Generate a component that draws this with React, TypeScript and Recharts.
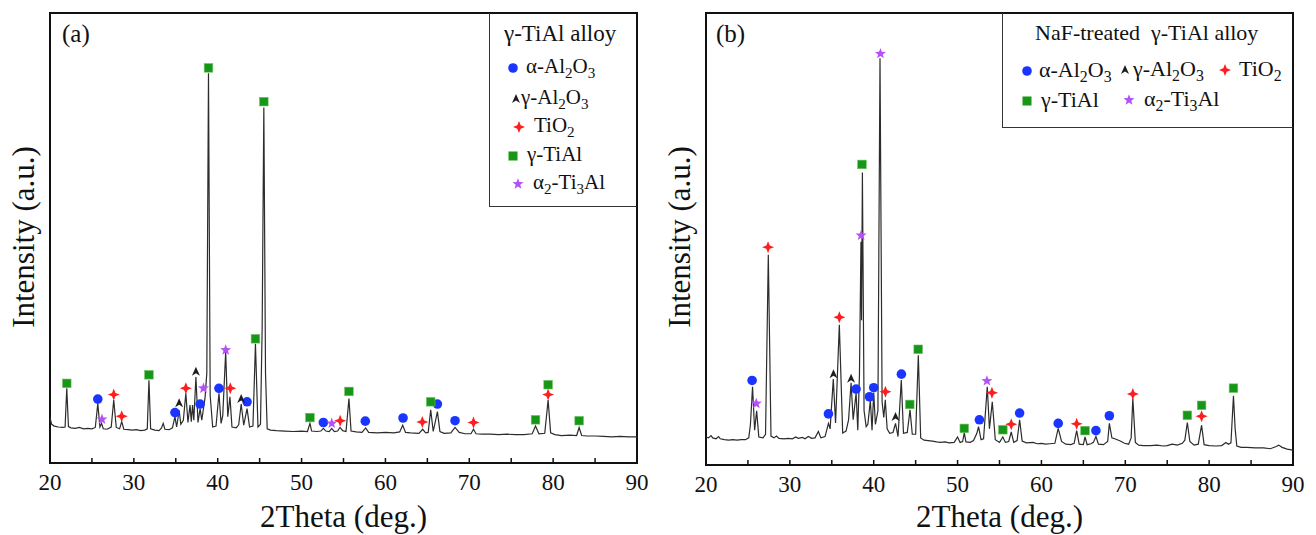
import React from "react";
import { ComposedChart, Line, Scatter, XAxis, YAxis, ReferenceArea } from "recharts";

type Pt = [number, number];
type Kind = "alpha" | "gamma" | "tio2" | "tial" | "ti3al";

const xTicks = [20, 25, 30, 35, 40, 45, 50, 55, 60, 65, 70, 75, 80, 85, 90];

// (a) gamma-TiAl alloy: [2theta, intensity]
const patternA: Pt[] = [
  [20.0, 10.0], [20.2, 8.6], [20.5, 8.2], [21.0, 8.0], [21.5, 7.9], [21.8, 8.0], [22.0, 16.6], [22.2, 8.1],
  [22.5, 7.8], [23.0, 7.7], [23.5, 7.9], [24.0, 7.6], [24.5, 7.7], [25.0, 7.6], [25.4, 7.9], [25.7, 13.2],
  [25.95, 8.0], [26.15, 8.8], [26.35, 7.6], [26.8, 7.5], [27.3, 8.0], [27.6, 14.0], [27.9, 7.9], [28.3, 7.6],
  [28.55, 9.2], [28.8, 7.5], [29.3, 7.4], [29.8, 7.3], [30.3, 7.4], [30.8, 7.2], [31.3, 7.3], [31.6, 7.6],
  [31.8, 18.4], [32.0, 7.6], [32.5, 7.3], [33.0, 7.2], [33.3, 7.8], [33.5, 8.8], [33.7, 7.5], [34.2, 7.4],
  [34.6, 7.8], [34.9, 10.3], [35.1, 8.0], [35.4, 11.7], [35.6, 8.6], [35.9, 9.5], [36.2, 15.5], [36.45, 9.0],
  [36.7, 12.9], [36.85, 9.2], [37.0, 12.9], [37.15, 9.5], [37.4, 19.1], [37.65, 9.0], [37.9, 12.1], [38.1, 9.5],
  [38.5, 14.7], [38.7, 20.0], [38.9, 86.6], [39.1, 15.0], [39.4, 8.0], [39.8, 8.2], [40.15, 15.5], [40.4, 8.8],
  [40.6, 10.5], [40.95, 24.7], [41.2, 10.3], [41.46, 14.7], [41.7, 8.0], [42.2, 7.8], [42.5, 8.5], [42.8, 13.1],
  [43.1, 8.4], [43.5, 12.1], [43.8, 8.0], [44.2, 8.2], [44.5, 26.5], [44.8, 8.0], [45.1, 8.6], [45.3, 30.0],
  [45.5, 79.0], [45.7, 20.0], [45.9, 7.6], [46.3, 7.3], [47.0, 7.2], [48.0, 7.1], [49.0, 7.0], [50.0, 7.1],
  [50.7, 7.0], [51.0, 8.8], [51.2, 7.1], [51.8, 7.0], [52.3, 7.1], [52.6, 7.7], [52.9, 7.1], [53.3, 7.0],
  [53.6, 7.7], [53.9, 7.0], [54.3, 7.1], [54.58, 7.9], [54.9, 7.2], [55.3, 7.0], [55.65, 14.3], [55.9, 7.1],
  [56.5, 6.9], [57.2, 6.8], [57.64, 7.8], [58.0, 6.8], [59.0, 6.7], [60.0, 6.8], [61.0, 6.7], [61.7, 6.9],
  [62.06, 8.4], [62.4, 6.8], [63.0, 6.7], [64.0, 6.6], [64.44, 7.5], [64.8, 6.7], [65.1, 6.8], [65.4, 11.8],
  [65.7, 7.0], [66.2, 11.4], [66.5, 7.0], [67.0, 6.6], [67.8, 6.7], [68.3, 7.9], [68.8, 6.8], [69.5, 6.5],
  [70.2, 6.5], [70.5, 7.5], [70.8, 6.5], [71.5, 6.4], [72.5, 6.4], [73.5, 6.3], [74.5, 6.4], [75.5, 6.3],
  [76.5, 6.3], [77.5, 6.5], [77.9, 8.2], [78.3, 6.5], [79.0, 6.6], [79.4, 14.0], [79.7, 6.7], [80.2, 6.3],
  [81.0, 6.1], [82.0, 6.2], [82.8, 6.1], [83.1, 7.9], [83.4, 6.1], [84.0, 6.0], [85.0, 6.0], [86.0, 5.9],
  [87.0, 5.8], [88.0, 5.9], [89.0, 5.8], [90.0, 5.8],
];

const alphaA: Pt[] = [[25.7, 14.2], [34.9, 11.2], [37.9, 13.1], [40.15, 16.6], [43.5, 13.6], [52.6, 9.0], [57.6, 9.3], [62.1, 10.0], [66.2, 13.1], [68.3, 9.4]];
const gammaA: Pt[] = [[35.4, 13.3], [37.4, 20.3], [42.8, 14.2]];
const tio2A: Pt[] = [[27.6, 15.2], [28.55, 10.4], [36.2, 16.6], [41.5, 16.6], [54.6, 9.4], [64.4, 9.1], [70.5, 9.0], [79.4, 15.2]];
const tialA: Pt[] = [[22.0, 17.7], [31.8, 19.6], [38.9, 87.8], [44.5, 27.6], [45.5, 80.3], [51.0, 10.1], [55.65, 15.9], [65.4, 13.6], [77.9, 9.6], [79.4, 17.4], [83.1, 9.4]];
const ti3alA: Pt[] = [[26.2, 9.7], [38.3, 16.6], [40.95, 25.1], [53.6, 8.8]];

// (b) NaF-treated gamma-TiAl alloy
const patternB: Pt[] = [
  [20.0, 6.2], [20.3, 6.0], [20.6, 6.5], [20.8, 6.0], [21.2, 5.8], [21.5, 6.3], [21.7, 5.8], [22.2, 5.6],
  [22.7, 5.5], [23.2, 5.6], [23.7, 5.5], [24.2, 5.6], [24.7, 5.6], [25.1, 6.0], [25.3, 9.0], [25.55, 17.3],
  [25.8, 7.7], [26.04, 12.0], [26.3, 6.2], [26.8, 6.0], [27.1, 6.8], [27.43, 46.5], [27.75, 6.4], [28.1, 6.0],
  [28.4, 6.4], [28.7, 5.9], [29.3, 5.8], [29.8, 5.9], [30.3, 5.8], [30.7, 6.2], [31.0, 5.9], [31.5, 6.1],
  [31.8, 5.8], [32.2, 6.3], [32.6, 5.9], [33.0, 6.0], [33.4, 7.4], [33.7, 6.0], [34.2, 6.3], [34.6, 9.2],
  [34.8, 8.0], [35.18, 19.0], [35.45, 9.3], [35.9, 31.0], [36.3, 7.1], [36.7, 7.5], [37.0, 10.0], [37.3, 18.2],
  [37.55, 10.0], [37.9, 15.9], [38.1, 7.7], [38.3, 20.0], [38.48, 49.4], [38.55, 32.0], [38.65, 64.7], [38.85, 12.0],
  [39.1, 8.5], [39.3, 9.0], [39.6, 14.3], [39.8, 7.7], [40.0, 16.0], [40.2, 9.0], [40.5, 12.0], [40.75, 90.0],
  [41.0, 14.0], [41.2, 10.5], [41.38, 14.4], [41.6, 8.0], [41.9, 7.0], [42.3, 7.2], [42.6, 9.2], [42.9, 6.3],
  [43.29, 18.8], [43.55, 7.0], [44.0, 7.2], [44.33, 12.2], [44.6, 6.8], [45.0, 6.8], [45.32, 24.3], [45.6, 6.0],
  [46.0, 5.5], [46.5, 5.4], [47.0, 5.3], [47.5, 5.1], [48.0, 5.0], [48.5, 5.1], [49.0, 4.9], [49.6, 5.0],
  [50.0, 6.2], [50.3, 5.0], [50.6, 5.2], [50.8, 7.1], [51.0, 5.1], [51.5, 5.0], [51.9, 5.4], [52.3, 7.0],
  [52.5, 8.5], [52.8, 5.6], [53.1, 5.8], [53.54, 17.3], [53.8, 8.0], [54.14, 14.0], [54.5, 5.6], [55.0, 5.0],
  [55.4, 6.2], [55.7, 5.0], [56.1, 5.2], [56.4, 7.3], [56.7, 5.0], [57.1, 5.4], [57.4, 10.0], [57.7, 5.3],
  [58.2, 4.9], [59.0, 5.0], [59.5, 4.7], [60.0, 4.8], [60.5, 4.6], [61.0, 4.7], [61.6, 4.8], [62.0, 8.1],
  [62.4, 5.2], [62.9, 4.6], [63.5, 4.5], [63.9, 4.8], [64.2, 7.6], [64.5, 4.6], [65.0, 4.5], [65.2, 6.2],
  [65.45, 4.5], [65.9, 4.7], [66.2, 5.0], [66.5, 6.3], [66.8, 4.6], [67.4, 4.5], [67.9, 5.2], [68.1, 9.2],
  [68.4, 6.0], [68.9, 5.7], [69.4, 5.3], [69.9, 4.8], [70.4, 4.6], [70.7, 6.0], [70.9, 14.7], [71.2, 5.0],
  [71.6, 4.4], [72.2, 4.3], [73.0, 4.3], [73.8, 4.4], [74.5, 4.2], [75.0, 4.3], [75.6, 4.6], [76.2, 4.4],
  [76.8, 4.8], [77.1, 5.5], [77.4, 9.4], [77.7, 5.2], [78.2, 4.4], [78.7, 4.6], [79.1, 8.8], [79.4, 4.5],
  [80.0, 4.3], [80.8, 4.2], [81.5, 4.3], [82.0, 5.0], [82.3, 4.6], [82.6, 4.9], [82.9, 15.3], [83.1, 8.0],
  [83.3, 4.2], [83.8, 3.9], [84.5, 3.9], [85.5, 3.8], [86.5, 3.8], [87.3, 3.6], [88.0, 4.1], [88.3, 4.4],
  [88.7, 3.9], [89.3, 3.5], [90.0, 3.3],
];

const alphaB: Pt[] = [[25.5, 18.7], [34.6, 11.3], [37.9, 16.8], [39.5, 15.1], [40.0, 17.1], [43.3, 20.1], [52.6, 10.0], [57.4, 11.5], [62.0, 9.2], [66.5, 7.6], [68.1, 10.9]];
const gammaB: Pt[] = [[35.2, 20.1], [37.3, 19.1], [42.6, 10.6]];
const tio2B: Pt[] = [[27.4, 48.2], [35.9, 32.7], [41.4, 16.2], [54.1, 16.0], [56.4, 9.0], [64.2, 9.1], [70.9, 15.7], [79.1, 10.8]];
const tialB: Pt[] = [[38.6, 66.5], [44.3, 13.4], [45.3, 25.6], [50.8, 8.1], [55.4, 7.8], [65.2, 7.6], [77.4, 11.0], [79.1, 13.2], [82.9, 17.0]];
const ti3alB: Pt[] = [[26.0, 13.6], [38.5, 50.8], [40.8, 91.0], [53.5, 18.6]];

const SERIF = "'Liberation Serif', 'Times New Roman', serif";
const toXY = (pts: Pt[]) => pts.map(([x, y]) => ({ x, y }));

function starPath(cx: number, cy: number, R: number, r: number) {
  let d = "";
  for (let i = 0; i < 10; i++) {
    const a = -Math.PI / 2 + (i * Math.PI) / 5;
    const rad = i % 2 ? r : R;
    d += (i ? "L" : "M") + (cx + rad * Math.cos(a)).toFixed(2) + "," + (cy + rad * Math.sin(a)).toFixed(2);
  }
  return d + "Z";
}

function marker(kind: Kind, cx: number, cy: number) {
  switch (kind) {
    case "alpha":
      return <circle cx={cx} cy={cy} r={4.8} fill="#1a35ff" />;
    case "gamma":
      return <path d={`M${cx},${cy - 5} L${cx + 4},${cy + 4} L${cx},${cy + 1.5} L${cx - 4},${cy + 4} Z`} fill="#1e1e1e" />;
    case "tio2":
      return (
        <path
          d={`M${cx},${cy - 6} L${cx + 1.7},${cy - 1.7} L${cx + 6},${cy} L${cx + 1.7},${cy + 1.7} L${cx},${cy + 6} L${cx - 1.7},${cy + 1.7} L${cx - 6},${cy} L${cx - 1.7},${cy - 1.7} Z`}
          fill="#ff1c1c"
        />
      );
    case "tial":
      return <rect x={cx - 4.3} y={cy - 4.3} width={8.6} height={8.6} fill="#17961a" stroke="#6cc45c" strokeWidth={0.6} />;
    default:
      return <path d={starPath(cx, cy, 5.8, 2.4)} fill="#b450f5" />;
  }
}

const XTick = ({ x, y, payload }: any) => (
  <g>
    <line x1={x} x2={x} y1={y} y2={y - 5} stroke="#111" strokeWidth={1.5} />
    {payload.value % 10 === 0 && (
      <text x={x} y={y + 27} textAnchor="middle" fontSize={23} fontFamily={SERIF} fill="#111">
        {payload.value}
      </text>
    )}
  </g>
);

interface PanelProps {
  pattern: Pt[];
  phases: { kind: Kind; data: Pt[] }[];
  axisHeight: number;
}

function Panel({ pattern, phases, axisHeight }: PanelProps) {
  return (
    <ComposedChart width={656} height={535} margin={{ top: 13, right: 19, bottom: 0, left: 50 }}>
      <XAxis
        type="number"
        dataKey="x"
        domain={[20, 90]}
        ticks={xTicks}
        interval={0}
        allowDataOverflow
        axisLine={false}
        tickLine={false}
        tickSize={0}
        tickMargin={0}
        height={axisHeight}
        tick={<XTick />}
      />
      <YAxis type="number" dataKey="y" domain={[0, 100]} hide allowDataOverflow />
      <Line
        data={toXY(pattern)}
        dataKey="y"
        type="linear"
        stroke="#2c2c2c"
        strokeWidth={1.2}
        dot={false}
        isAnimationActive={false}
      />
      {phases.map((p) => (
        <Scatter
          key={p.kind}
          data={toXY(p.data)}
          isAnimationActive={false}
          shape={(s: any) => marker(p.kind, s.cx, s.cy)}
        />
      ))}
      <ReferenceArea x1={20} x2={90} y1={0} y2={100} fill="none" stroke="#111" strokeWidth={2} />
    </ComposedChart>
  );
}

const sub = (t: string) => (
  <span style={{ fontSize: "0.72em", position: "relative", top: "0.3em" }}>{t}</span>
);

const labels: Record<Kind, React.ReactNode> = {
  alpha: <>α-Al{sub("2")}O{sub("3")}</>,
  gamma: <>γ-Al{sub("2")}O{sub("3")}</>,
  tio2: <>TiO{sub("2")}</>,
  tial: <>γ-TiAl</>,
  ti3al: <>α{sub("2")}-Ti{sub("3")}Al</>,
};

interface LegendItem { kind: Kind; mx: number; my: number; tx: number }

const legendA: LegendItem[] = [
  { kind: "alpha", mx: 513, my: 68, tx: 526 },
  { kind: "gamma", mx: 516, my: 99, tx: 521 },
  { kind: "tio2", mx: 519, my: 127, tx: 534 },
  { kind: "tial", mx: 513, my: 156, tx: 527 },
  { kind: "ti3al", mx: 518, my: 184, tx: 533 },
];
const legendB: LegendItem[] = [
  { kind: "alpha", mx: 1027, my: 71, tx: 1039 },
  { kind: "gamma", mx: 1125, my: 70, tx: 1133 },
  { kind: "tio2", mx: 1225, my: 70, tx: 1239 },
  { kind: "tial", mx: 1027, my: 101, tx: 1041 },
  { kind: "ti3al", mx: 1129, my: 100, tx: 1144 },
];

function LegendEntries({ items, size }: { items: LegendItem[]; size: number }) {
  return (
    <>
      {items.map((it) => (
        <React.Fragment key={it.kind}>
          <svg style={{ position: "absolute", left: it.mx - 8, top: it.my - 8 }} width={16} height={16}>
            {marker(it.kind, 8, 8)}
          </svg>
          <div style={{ position: "absolute", left: it.tx, top: it.my - 12, fontSize: size, lineHeight: 1, whiteSpace: "nowrap", color: "#111" }}>
            {labels[it.kind]}
          </div>
        </React.Fragment>
      ))}
    </>
  );
}

const text = (style: React.CSSProperties, content: React.ReactNode) => (
  <div style={{ position: "absolute", lineHeight: 1, whiteSpace: "nowrap", color: "#111", ...style }}>{content}</div>
);

export default function App() {
  const phasesA = [
    { kind: "alpha" as Kind, data: alphaA },
    { kind: "gamma" as Kind, data: gammaA },
    { kind: "tio2" as Kind, data: tio2A },
    { kind: "tial" as Kind, data: tialA },
    { kind: "ti3al" as Kind, data: ti3alA },
  ];
  const phasesB = [
    { kind: "alpha" as Kind, data: alphaB },
    { kind: "gamma" as Kind, data: gammaB },
    { kind: "tio2" as Kind, data: tio2B },
    { kind: "tial" as Kind, data: tialB },
    { kind: "ti3al" as Kind, data: ti3alB },
  ];
  return (
    <div style={{ position: "absolute", left: 0, top: 0, width: 1316, height: 535, background: "#fff", fontFamily: SERIF, overflow: "hidden" }}>
      <div style={{ position: "absolute", left: 0, top: 0 }}>
        <Panel pattern={patternA} phases={phasesA} axisHeight={72} />
      </div>
      <div style={{ position: "absolute", left: 656, top: 0 }}>
        <Panel pattern={patternB} phases={phasesB} axisHeight={70} />
      </div>

      {text({ left: 62, top: 21, fontSize: 25 }, "(a)")}
      {text({ left: 716, top: 21, fontSize: 25 }, "(b)")}

      {text({ left: 50, width: 587, top: 501, fontSize: 31, textAlign: "center" }, "2Theta (deg.)")}
      {text({ left: 706, width: 587, top: 501, fontSize: 31, textAlign: "center" }, "2Theta (deg.)")}

      {text({ left: 23, top: 237, fontSize: 31, transform: "translate(-50%, -50%) rotate(-90deg)" }, "Intensity (a.u.)")}
      {text({ left: 679, top: 237, fontSize: 31, transform: "translate(-50%, -50%) rotate(-90deg)" }, "Intensity (a.u.)")}

      <div style={{ position: "absolute", left: 489, top: 13, width: 147, height: 193, border: "1.3px solid #333", borderTop: "none", borderRight: "none" }} />
      {text({ left: 504, top: 22, fontSize: 23 }, "γ-TiAl alloy")}
      <LegendEntries items={legendA} size={21} />

      <div style={{ position: "absolute", left: 1002, top: 13, width: 290, height: 114, border: "1.3px solid #333", borderTop: "none", borderRight: "none" }} />
      {text({ left: 1035, top: 22, fontSize: 22 }, "NaF-treated\u00a0\u00a0γ-TiAl alloy")}
      <LegendEntries items={legendB} size={22} />
    </div>
  );
}
